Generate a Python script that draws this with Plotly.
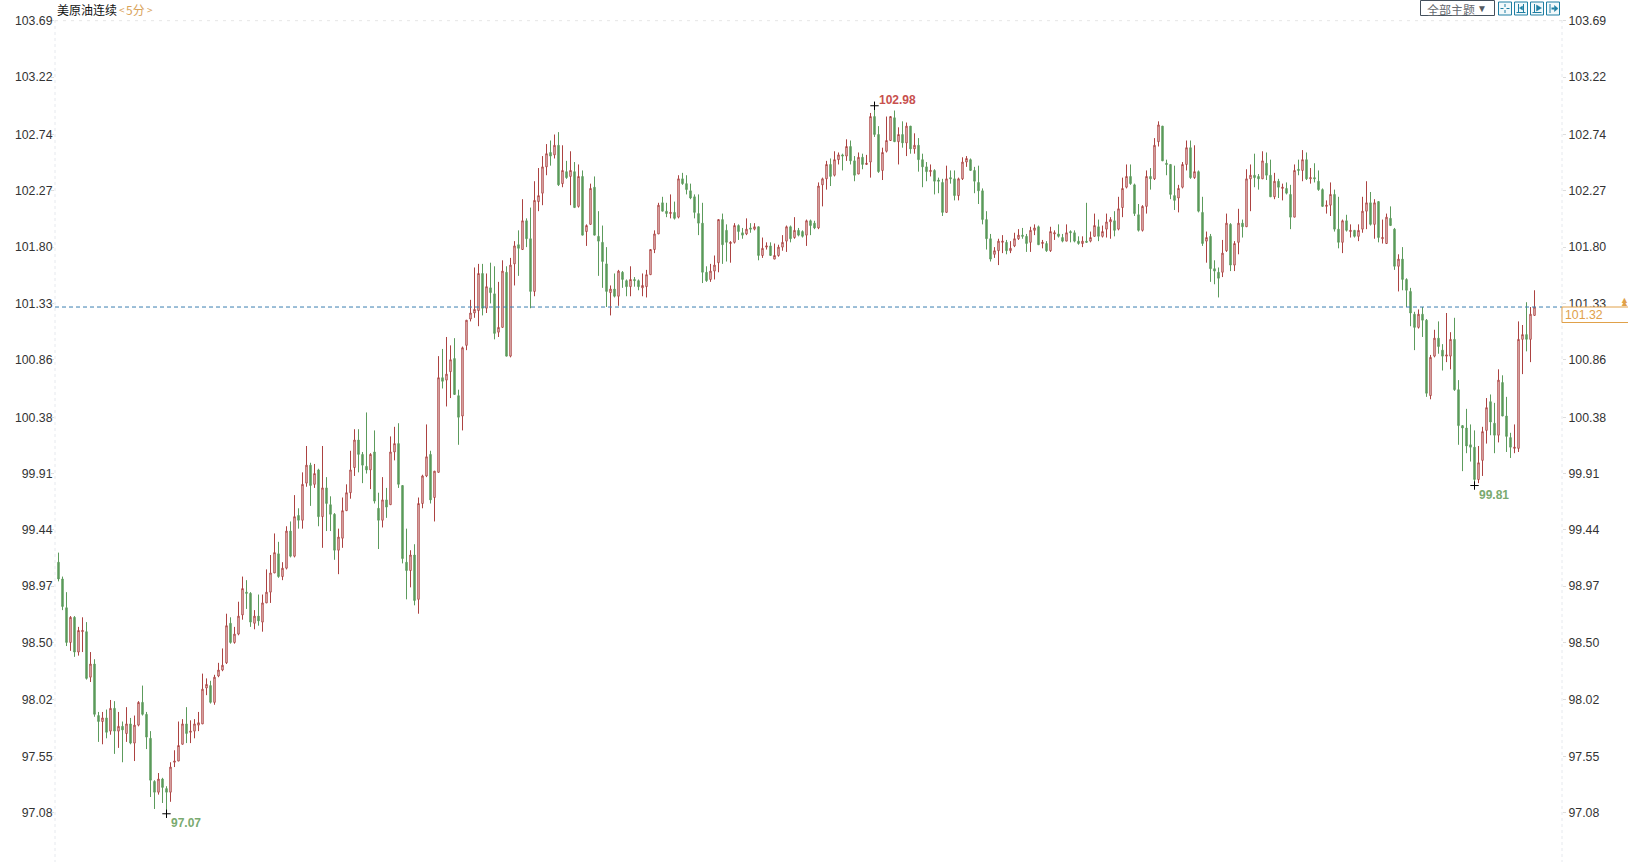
import numpy as np
import plotly.graph_objects as go

# ---------- data ----------
highs = [
99.25,99.05,98.92,98.72,98.72,98.63,98.71,98.67,98.42,98.36,
97.92,97.92,97.94,98.02,98.01,97.92,97.84,97.96,97.87,97.89,
98.01,98.14,97.92,97.76,97.35,97.41,97.37,97.30,97.50,97.60,
97.84,97.86,97.96,97.85,97.86,97.92,98.24,98.20,98.18,98.23,
98.33,98.45,98.74,98.71,98.63,98.84,99.05,99.02,98.92,98.77,
98.90,98.90,99.11,99.23,99.41,99.34,99.17,99.47,99.51,99.73,
99.62,99.92,100.14,100.00,99.99,99.95,100.14,99.88,99.72,99.58,
99.45,99.71,99.82,100.10,100.28,100.28,100.09,100.42,100.08,100.27,
99.75,99.88,99.79,100.22,100.30,100.33,99.81,99.45,99.27,99.32,
99.71,99.90,100.32,100.10,99.93,100.89,100.95,101.05,100.98,101.04,
100.61,100.97,101.19,101.36,101.63,101.66,101.66,101.58,101.67,101.64,
101.51,101.69,101.64,101.71,101.85,101.94,102.20,102.04,102.13,102.35,
102.46,102.56,102.66,102.69,102.74,102.76,102.65,102.52,102.60,102.51,
102.49,102.44,101.99,102.33,102.39,102.10,101.98,101.80,101.48,101.58,
101.61,101.60,101.53,101.64,101.55,101.53,101.58,101.61,101.78,101.94,
102.17,102.22,102.17,102.24,102.18,102.40,102.42,102.40,102.33,102.24,
102.24,102.17,101.64,101.66,101.73,102.03,102.08,101.99,101.85,102.00,
101.99,101.96,102.04,102.00,102.00,101.97,101.88,101.84,101.84,101.83,
101.82,101.90,101.98,101.98,102.05,101.96,101.94,102.03,102.03,102.02,
102.34,102.38,102.52,102.54,102.60,102.59,102.58,102.70,102.69,102.56,
102.59,102.58,102.57,102.92,102.98,102.81,102.63,102.89,102.89,102.94,
102.80,102.85,102.84,102.81,102.75,102.71,102.58,102.51,102.49,102.45,
102.38,102.37,102.48,102.44,102.44,102.38,102.55,102.56,102.54,102.47,
102.48,102.29,102.10,101.91,101.80,101.87,101.90,101.86,101.85,101.92,
101.95,101.96,101.91,101.97,101.99,101.98,101.86,101.85,101.97,101.94,
101.99,101.91,101.99,101.94,101.94,101.89,101.89,102.17,101.93,102.08,
102.03,101.98,102.08,102.05,102.10,102.22,102.38,102.49,102.49,102.33,
102.16,102.15,102.44,102.46,102.71,102.85,102.81,102.53,102.49,102.48,
102.32,102.51,102.69,102.69,102.65,102.44,102.22,101.93,101.91,101.69,
101.63,101.86,102.08,102.00,101.85,102.12,102.03,102.45,102.49,102.58,
102.41,102.60,102.59,102.53,102.42,102.37,102.33,102.34,102.32,102.49,
102.53,102.61,102.59,102.46,102.50,102.44,102.29,102.19,102.34,102.28,
102.22,102.03,102.07,101.99,101.94,101.99,102.22,102.35,102.26,102.20,
102.18,102.03,102.08,102.14,101.96,101.74,101.80,101.54,101.46,101.26,
101.28,101.30,101.20,100.90,101.11,101.18,100.99,101.25,101.09,101.21,
100.69,100.31,100.45,100.32,100.27,100.14,100.30,100.54,100.57,100.50,
100.78,100.73,100.55,100.25,100.32,101.18,101.15,101.34,101.30,101.44,
]

lows = [
99.01,98.77,98.47,98.43,98.38,98.39,98.42,98.19,98.17,97.88,
97.67,97.65,97.70,97.73,97.57,97.62,97.50,97.67,97.65,97.51,
97.80,97.89,97.61,97.21,97.11,97.23,97.16,97.07,97.17,97.46,
97.51,97.65,97.66,97.66,97.70,97.76,97.82,98.06,97.99,97.98,
98.21,98.26,98.32,98.49,98.49,98.56,98.69,98.78,98.63,98.61,
98.64,98.59,98.83,98.83,99.08,99.04,99.02,99.11,99.21,99.21,
99.45,99.45,99.80,99.64,99.79,99.47,99.29,99.43,99.43,99.19,
99.07,99.29,99.60,99.70,99.89,99.92,99.83,99.91,99.78,99.66,
99.28,99.46,99.54,99.65,100.02,99.79,99.16,98.86,98.96,98.81,
98.74,99.62,99.88,99.66,99.51,99.92,100.62,100.47,100.54,100.57,
100.15,100.27,100.94,101.18,101.21,101.14,101.23,101.25,101.33,101.03,
101.05,101.13,100.89,100.88,101.48,101.56,101.78,101.80,101.29,101.39,
102.10,102.15,102.40,102.48,102.54,102.31,102.30,102.37,102.15,102.13,
102.13,101.90,101.81,101.99,101.90,101.56,101.46,101.30,101.23,101.38,
101.31,101.46,101.39,101.39,101.47,101.44,101.39,101.38,101.57,101.75,
101.91,102.10,102.05,102.04,102.03,102.04,102.32,102.24,102.20,102.04,
101.90,101.50,101.51,101.51,101.53,101.59,101.66,101.68,101.67,101.83,
101.86,101.87,101.90,101.92,101.94,101.69,101.71,101.78,101.73,101.70,
101.72,101.77,101.76,101.84,101.87,101.89,101.88,101.81,101.90,101.95,
101.95,102.14,102.28,102.31,102.39,102.49,102.44,102.52,102.49,102.35,
102.41,102.45,102.49,102.38,102.72,102.42,102.36,102.59,102.69,102.68,
102.49,102.63,102.56,102.58,102.58,102.43,102.30,102.35,102.39,102.24,
102.25,102.06,102.09,102.33,102.19,102.19,102.36,102.47,102.44,102.25,
102.16,101.99,101.78,101.68,101.71,101.65,101.75,101.74,101.75,101.80,
101.86,101.87,101.76,101.76,101.90,101.82,101.79,101.76,101.76,101.86,
101.88,101.84,101.85,101.84,101.84,101.82,101.80,101.84,101.84,101.89,
101.85,101.88,101.88,101.87,101.89,101.94,102.05,102.29,102.32,102.06,
101.93,101.93,102.08,102.28,102.36,102.64,102.52,102.40,102.20,102.11,
102.09,102.29,102.44,102.37,102.37,102.09,101.81,101.67,101.51,101.49,
101.38,101.55,101.76,101.60,101.60,101.74,101.88,101.97,102.10,102.30,
102.28,102.37,102.36,102.22,102.20,102.21,102.19,102.24,101.95,102.05,
102.40,102.35,102.36,102.33,102.34,102.27,102.14,102.08,102.06,101.93,
101.79,101.75,101.93,101.88,101.88,101.85,101.92,101.95,101.98,101.87,
101.84,101.83,101.83,101.98,101.61,101.43,101.44,101.30,101.14,100.94,
101.12,101.05,100.55,100.53,100.88,100.91,100.77,100.84,100.78,100.60,
100.15,99.93,100.08,100.01,99.81,99.83,99.89,100.16,100.23,100.08,
100.17,100.39,100.09,100.04,100.08,100.09,100.74,100.93,100.84,101.23,
]

opens = [
99.17,99.03,98.79,98.50,98.71,98.42,98.59,98.59,98.21,98.32,
97.89,97.84,97.87,97.76,97.95,97.76,97.80,97.74,97.82,97.66,
97.81,98.00,97.90,97.70,97.34,97.25,97.36,97.28,97.25,97.50,
97.51,97.65,97.82,97.75,97.76,97.81,97.82,98.12,98.14,98.00,
98.22,98.27,98.33,98.66,98.50,98.57,98.73,98.92,98.91,98.66,
98.72,98.67,98.83,98.92,99.08,99.24,99.05,99.12,99.43,99.22,
99.56,99.52,99.83,99.98,99.82,99.94,99.55,99.79,99.65,99.57,
99.27,99.37,99.60,99.75,99.96,100.19,100.07,99.97,99.94,100.09,
99.62,99.52,99.69,99.65,100.09,100.16,99.81,99.17,99.10,99.23,
98.86,99.66,99.89,100.07,99.71,99.92,100.71,100.69,100.76,100.87,
100.56,100.39,100.98,101.20,101.25,101.27,101.58,101.29,101.46,101.41,
101.09,101.13,101.59,100.89,101.66,101.82,101.78,102.02,101.87,101.43,
102.18,102.25,102.47,102.59,102.57,102.65,102.33,102.43,102.39,102.43,
102.14,102.39,101.93,101.99,102.30,101.89,101.84,101.66,101.42,101.45,
101.39,101.59,101.52,101.47,101.53,101.52,101.46,101.47,101.57,101.78,
101.91,102.17,102.10,102.08,102.09,102.05,102.37,102.33,102.27,102.22,
102.08,102.00,101.59,101.53,101.60,101.67,102.03,101.94,101.83,101.84,
101.98,101.92,101.91,101.96,101.95,101.97,101.73,101.80,101.81,101.70,
101.73,101.80,101.85,101.97,101.88,101.94,101.93,101.90,102.02,102.00,
101.96,102.32,102.37,102.49,102.40,102.53,102.57,102.56,102.64,102.52,
102.41,102.55,102.49,102.51,102.89,102.74,102.44,102.60,102.69,102.88,
102.68,102.74,102.67,102.81,102.62,102.65,102.53,102.47,102.43,102.44,
102.36,102.34,102.09,102.38,102.37,102.23,102.37,102.51,102.53,102.44,
102.34,102.27,102.03,101.87,101.74,101.77,101.84,101.84,101.77,101.81,
101.87,101.90,101.89,101.84,101.94,101.97,101.83,101.83,101.77,101.91,
101.91,101.88,101.85,101.93,101.92,101.85,101.83,101.85,101.85,101.89,
101.97,101.89,101.95,102.01,102.02,101.95,102.13,102.30,102.39,102.32,
102.07,101.94,102.14,102.39,102.37,102.68,102.81,102.50,102.49,102.23,
102.21,102.30,102.49,102.63,102.38,102.43,102.09,101.85,101.89,101.62,
101.59,101.59,101.77,101.99,101.65,101.84,102.00,101.97,102.37,102.40,
102.39,102.37,102.50,102.40,102.22,102.35,102.29,102.29,102.24,102.05,
102.45,102.44,102.53,102.37,102.38,102.35,102.28,102.14,102.15,102.24,
101.95,101.84,102.02,101.93,101.94,101.89,101.95,102.10,102.17,101.99,
102.18,101.87,101.83,102.04,101.95,101.64,101.70,101.53,101.43,101.24,
101.13,101.24,101.19,100.56,100.89,101.04,100.94,100.89,100.89,101.03,
100.61,100.31,100.29,100.15,100.13,99.86,100.02,100.27,100.51,100.33,
100.23,100.67,100.39,100.21,100.12,100.12,101.03,101.07,101.03,101.23,
]

closes = [
99.03,98.80,98.50,98.71,98.42,98.60,98.60,98.20,98.32,97.90,
97.84,97.87,97.75,97.95,97.76,97.80,97.77,97.82,97.66,97.81,
98.00,97.90,97.71,97.35,97.25,97.36,97.29,97.25,97.46,97.51,
97.64,97.82,97.74,97.76,97.82,97.83,98.11,98.15,98.00,98.21,
98.27,98.31,98.64,98.50,98.57,98.72,98.95,98.91,98.67,98.72,
98.68,98.83,98.92,99.08,99.25,99.05,99.12,99.43,99.22,99.55,
99.52,99.82,99.98,99.81,99.91,99.55,99.79,99.66,99.57,99.27,
99.38,99.60,99.75,99.94,100.19,100.07,99.98,99.94,100.07,99.68,
99.52,99.69,99.63,100.09,100.16,99.82,99.20,99.10,99.23,98.85,
99.66,99.89,100.05,99.69,99.93,100.71,100.68,100.74,100.86,100.57,
100.38,100.96,101.19,101.25,101.28,101.58,101.29,101.47,101.42,101.08,
101.13,101.60,100.89,101.65,101.81,101.79,102.02,101.87,101.43,102.19,
102.23,102.47,102.58,102.56,102.65,102.32,102.44,102.38,102.44,102.13,
102.39,101.90,101.98,102.29,101.90,101.85,101.68,101.43,101.45,101.39,
101.60,101.53,101.47,101.53,101.52,101.47,101.48,101.57,101.78,101.91,
102.15,102.10,102.08,102.09,102.04,102.37,102.33,102.28,102.21,102.09,
102.00,101.59,101.52,101.60,101.65,102.03,101.82,101.84,101.84,101.98,
101.93,101.90,101.95,101.95,101.97,101.73,101.79,101.81,101.73,101.73,
101.80,101.84,101.97,101.87,101.94,101.90,101.89,102.02,101.98,101.96,
102.31,102.37,102.49,102.39,102.53,102.57,102.56,102.64,102.52,102.40,
102.55,102.49,102.50,102.89,102.74,102.43,102.59,102.69,102.89,102.68,
102.74,102.67,102.81,102.62,102.65,102.53,102.47,102.43,102.44,102.35,
102.35,102.09,102.37,102.37,102.23,102.37,102.51,102.54,102.44,102.35,
102.27,102.03,101.87,101.70,101.77,101.85,101.85,101.77,101.79,101.87,
101.90,101.89,101.83,101.94,101.96,101.82,101.84,101.77,101.93,101.92,
101.89,101.85,101.92,101.92,101.85,101.83,101.85,101.84,101.88,101.98,
101.89,101.93,102.01,102.03,101.94,102.12,102.29,102.39,102.33,102.08,
101.94,102.14,102.39,102.37,102.65,102.82,102.52,102.49,102.24,102.19,
102.29,102.49,102.63,102.38,102.43,102.10,101.83,101.88,101.62,101.60,
101.54,101.75,102.00,101.65,101.83,102.00,101.97,102.37,102.40,102.38,
102.37,102.52,102.40,102.22,102.35,102.30,102.30,102.25,102.05,102.44,
102.44,102.53,102.37,102.38,102.37,102.28,102.14,102.15,102.24,101.95,
101.84,102.02,101.94,101.94,101.89,101.94,102.10,102.17,101.99,102.17,
101.88,101.88,102.05,101.98,101.64,101.70,101.53,101.44,101.25,101.13,
101.24,101.19,100.58,100.88,101.04,100.97,100.89,100.90,101.03,100.61,
100.31,100.29,100.14,100.13,99.86,100.00,100.26,100.46,100.34,100.23,
100.69,100.39,100.22,100.13,100.13,101.03,101.07,101.03,101.24,101.30,
]

tick_values = [103.69, 103.22, 102.74, 102.27, 101.80, 101.33, 100.86, 100.38,
               99.91, 99.44, 98.97, 98.50, 98.02, 97.55, 97.08]
tick_labels = [f"{v:.2f}" for v in tick_values]

extreme_index = [27, 204, 354]
extreme_price = [97.07, 102.98, 99.81]
last_line_price = 101.30
last_price_label = "101.32"

RED, GREEN = "#ac4241", "#5c9b5c"
ORANGE = "#e0a14a"
ICON = "#1f7fa3"
W, H = 1628, 862
L_PX, R_PX = 55, 1562


def xp(px):
    return (px - L_PX) / (R_PX - L_PX)


def yp(py):
    return 1 - py / H


x_idx = np.arange(len(opens))

fig = go.Figure()
fig.add_trace(go.Candlestick(
    x=x_idx, open=opens, high=highs, low=lows, close=closes,
    increasing=dict(line=dict(color=RED, width=1), fillcolor="#ffffff"),
    decreasing=dict(line=dict(color=GREEN, width=1), fillcolor=GREEN),
    whiskerwidth=0, hoverinfo="skip", showlegend=False,
))
fig.add_trace(go.Scatter(
    x=extreme_index, y=extreme_price, yaxis="y2", mode="markers",
    marker=dict(symbol="cross-thin", size=6, line=dict(color="#000000", width=1)),
    hoverinfo="skip", showlegend=False,
))


def seg(x0, y0, x1, y1, color=ICON, width=1):
    return dict(type="line", xref="paper", yref="paper", x0=xp(x0), x1=xp(x1), y0=yp(y0), y1=yp(y1),
                line=dict(color=color, width=width))


def tri(points, color=ICON):
    path = "M" + " L".join(f"{xp(a):.6f},{yp(b):.6f}" for a, b in points) + " Z"
    return dict(type="path", xref="paper", yref="paper", path=path, fillcolor=color,
                line=dict(color=color, width=0.5))


shapes = [
    # plot frame: light dashed verticals, dotted top line
    dict(type="line", xref="paper", yref="paper", x0=0, x1=0, y0=yp(20), y1=0,
         line=dict(color="#e6e9ee", width=1, dash="3px,3px")),
    dict(type="line", xref="paper", yref="paper", x0=1, x1=1, y0=yp(20), y1=0,
         line=dict(color="#e6e9ee", width=1, dash="3px,3px")),
    dict(type="line", xref="paper", yref="y", x0=0, x1=1, y0=103.69, y1=103.69,
         line=dict(color="#e6e6e6", width=1, dash="3px,5px")),
    # last price line
    dict(type="line", xref="paper", yref="y", x0=0, x1=1,
         y0=last_line_price, y1=last_line_price,
         line=dict(color="#3b7fb0", width=1, dash="4px,3px")),
    # last price box
    dict(type="rect", xref="paper", yref="paper", x0=xp(1562), x1=xp(1640),
         y0=yp(322.5), y1=yp(307), fillcolor="#ffffff",
         line=dict(color=ORANGE, width=1), layer="above"),
    # theme button
    dict(type="rect", xref="paper", yref="paper", x0=xp(1420.5), x1=xp(1494.5),
         y0=yp(15.5), y1=yp(0.5), fillcolor="#ffffff",
         line=dict(color="#44505c", width=1)),
]
for bx in (1498.5, 1514.5, 1530.5, 1546.5):
    shapes.append(dict(type="rect", xref="paper", yref="paper",
                       x0=xp(bx), x1=xp(bx + 13), y0=yp(15), y1=yp(2),
                       fillcolor="#f2f9fb", line=dict(color=ICON, width=1)))
# icon 1: dashed cross
b = 1498.5
shapes += [seg(b + 2, 8.5, b + 5, 8.5), seg(b + 8, 8.5, b + 11, 8.5),
           seg(b + 6.5, 4, b + 6.5, 7), seg(b + 6.5, 10, b + 6.5, 13)]
# icon 2: two bars and a left/right arrow
b = 1514.5
shapes += [seg(b + 4, 4, b + 4, 13), seg(b + 9, 4, b + 9, 13), seg(b + 2, 12.5, b + 11, 12.5),
           tri([(b + 8, 6), (b + 8, 10), (b + 5, 8)])]
# icon 3: axis corner with a right triangle
b = 1530.5
shapes += [seg(b + 4, 4, b + 4, 13), seg(b + 2, 12.5, b + 11, 12.5),
           tri([(b + 6, 5), (b + 6, 11), (b + 11, 8)])]
# icon 4: bar and arrow
b = 1546.5
shapes += [seg(b + 3.5, 4, b + 3.5, 13), seg(b + 5, 8.5, b + 8, 8.5, width=2),
           tri([(b + 8, 5.5), (b + 8, 11.5), (b + 11.5, 8.5)])]

text_font = "Liberation Sans, Arial, sans-serif"
cjk_font = "Noto Sans CJK SC, sans-serif"


def note(px, py, text, color, size=12, family=text_font, bold=False, anchor="left"):
    return dict(xref="paper", yref="paper", x=xp(px), y=yp(py), text=f"<b>{text}</b>" if bold else text,
                showarrow=False, xanchor=anchor, yanchor="middle",
                font=dict(color=color, size=size, family=family), borderpad=0, borderwidth=0)


annotations = [
    note(57, 9.5, "美原油连续", "#111111", family=cjk_font),
    note(118.5, 9.5, "&lt;", "#d9a35a", family=cjk_font, size=10),
    note(126, 9.5, "5分", "#d9a35a", family=cjk_font),
    note(146.5, 9.5, "&gt;", "#d9a35a", family=cjk_font, size=10),
    note(1427, 9, "全部主题", "#666a70", family=cjk_font),
    note(1477, 8, "▼", "#555a60", size=10),
    note(171, 823, "97.07", "#7aaa70", bold=True),
    note(879, 100, "102.98", "#c8504e", bold=True),
    note(1479, 495, "99.81", "#7aaa70", bold=True),
    note(1565, 315, last_price_label, ORANGE, size=12.3),
    note(1624, 299.5, "▲", ORANGE, size=9, anchor="center"),
    note(1624, 303.5, "▲", ORANGE, size=9, anchor="center"),
]

y_range = [103.69 - (H - 20.7) / 119.8, 103.69 + 20.7 / 119.8]
axis_common = dict(range=y_range, tickmode="array", tickvals=tick_values, ticktext=tick_labels,
                   showgrid=False, zeroline=False, showline=False,
                   ticks="outside", ticklen=3, tickcolor="#dddddd", tickwidth=1,
                   tickfont=dict(family=text_font, size=12.3, color="#333333"))

fig.update_layout(
    width=W, height=H, autosize=False,
    margin=dict(l=L_PX, r=W - R_PX, t=0, b=0, pad=0),
    paper_bgcolor="#ffffff", plot_bgcolor="#ffffff",
    showlegend=False, hovermode=False, dragmode=False,
    boxgap=0.5,
    xaxis=dict(range=[(L_PX - 58.5) / 4, (R_PX - 58.5) / 4], visible=False,
               rangeslider=dict(visible=False), showgrid=False, zeroline=False),
    yaxis=dict(side="left", ticklabelstandoff=-4, **axis_common),
    yaxis2=dict(side="right", overlaying="y", anchor="x", **axis_common),
    shapes=shapes, annotations=annotations,
)

fig.write_html("out.html", config=dict(displayModeBar=False, staticPlot=True),
               post_script="document.body.style.margin='0';document.body.style.overflow='hidden';")
